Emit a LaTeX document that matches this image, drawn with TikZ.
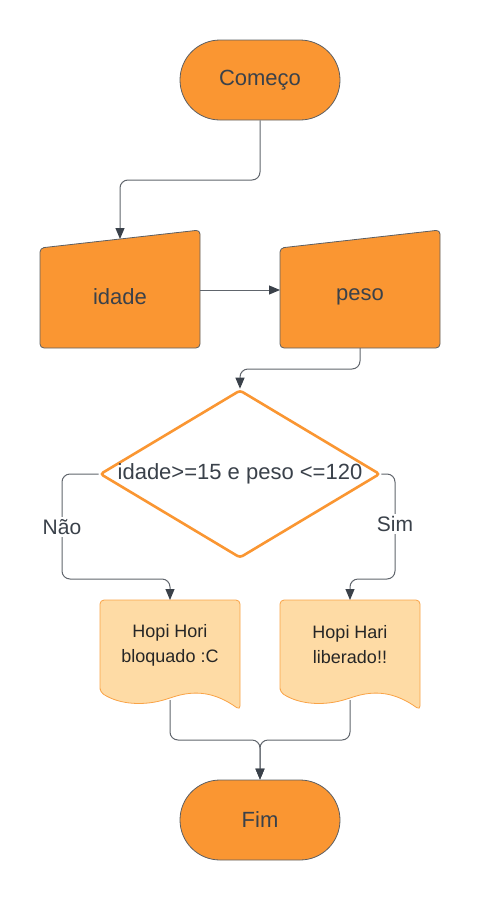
\documentclass[tikz,border=0pt]{standalone}
\usepackage{fontspec}
\setmainfont{Liberation Sans}
\usetikzlibrary{shapes.misc,shapes.geometric,arrows.meta}
\definecolor{orf}{HTML}{FA9632}
\definecolor{edge}{HTML}{5C5F63}
\definecolor{txt}{HTML}{3A414A}
\definecolor{lnk}{HTML}{60656C}
\definecolor{docf}{HTML}{FEDBA5}
\definecolor{docd}{HTML}{F9A347}
\begin{document}
\begin{tikzpicture}[x=1pt,y=-1pt,
  term/.style={rounded rectangle, draw=edge, line width=0.8pt, fill=orf,
    minimum width=160pt, minimum height=80pt, inner sep=0pt, text=txt,
    font=\fontsize{22}{26}\selectfont},
  minput/.style={draw=edge, line width=0.8pt, fill=orf, rounded corners=4pt},
  bigtxt/.style={text=txt, font=\fontsize{22}{26}\selectfont, inner sep=0pt},
  dia/.style={diamond, draw=orf, line width=2.6pt, fill=white, inner sep=0pt,
    minimum width=280pt, minimum height=168pt, rounded corners=3pt},
  docshape/.style={draw=docd, line width=0.8pt, fill=docf, rounded corners=4pt},
  doctxt/.style={text=black!85, align=center, font=\fontsize{18}{25}\selectfont, inner sep=0pt},
  conn/.style={draw=lnk, line width=1pt, rounded corners=8pt},
  arr/.style={-{Triangle[length=11pt,width=9pt,color=txt]}},
  lbl/.style={fill=white, text=txt, font=\fontsize{21}{25}\selectfont, inner sep=2pt}]
\useasboundingbox (0,0) rectangle (480,900);

% terminals
\node[term] (start) at (260,80) {Começo};
\node[term] (fim) at (260,820) {Fim};

% manual inputs
\draw[minput] (40,248) -- (200,230) -- (200,348) -- (40,348) -- cycle;
\node[bigtxt] (idade) at (120,297) {idade};
\draw[minput] (280,248) -- (440,230) -- (440,348) -- (280,348) -- cycle;
\node[bigtxt] (peso) at (360,297) {peso};
\coordinate (idtop) at (120,239);
\coordinate (idR) at (200,290);
\coordinate (pesoL) at (280,290);
\coordinate (pesoB) at (360,348);

% decision
\node[dia] (d) at (240,474) {};
\node[bigtxt] (cond) at (240,474) {idade>=15 e peso <=120};

% documents
\draw[docshape] (100,692) -- (100,600) -- (240,600) -- (240,710)
  .. controls (215,692) and (195,690) .. (170,698)
  .. controls (145,706) and (120,705) .. (100,692) -- cycle;
\node[doctxt] (ldoc) at (170,645) {Hopi Hori\\bloquado :C};
\draw[docshape] (280,692) -- (280,600) -- (420,600) -- (420,710)
  .. controls (395,692) and (375,690) .. (350,698)
  .. controls (325,706) and (300,705) .. (280,692) -- cycle;
\node[doctxt] (rdoc) at (350,645) {Hopi Hari\\liberado!!};
\coordinate (ldocT) at (170,600);
\coordinate (rdocT) at (350,600);
\coordinate (ldocB) at (170,700);
\coordinate (rdocB) at (350,700);

% bends
\coordinate (bend1) at (120,180);
\coordinate (bend2) at (240,369);
\coordinate (bend3) at (62,579);
\coordinate (bend4) at (395,579);
\coordinate (merge) at (260,740);

% connectors
\draw[conn,arr] (start.south) |- (bend1) -- (idtop);
\draw[conn,arr] (idR) -- (pesoL);
\draw[conn,arr] (pesoB) |- (bend2) -- (d.north);
\draw[conn,arr] (d.west) -| (bend3) -| (ldocT);
\draw[conn,arr] (d.east) -| (bend4) -| (rdocT);
\draw[conn,arr] (ldocB) |- (merge) -- (fim.north);
\draw[conn,arr] (rdocB) |- (merge) -- (fim.north);

% labels
\node[lbl] (nao) at (62,527) {Não};
\node[lbl] (sim) at (395,524) {Sim};
\end{tikzpicture}
\end{document}
